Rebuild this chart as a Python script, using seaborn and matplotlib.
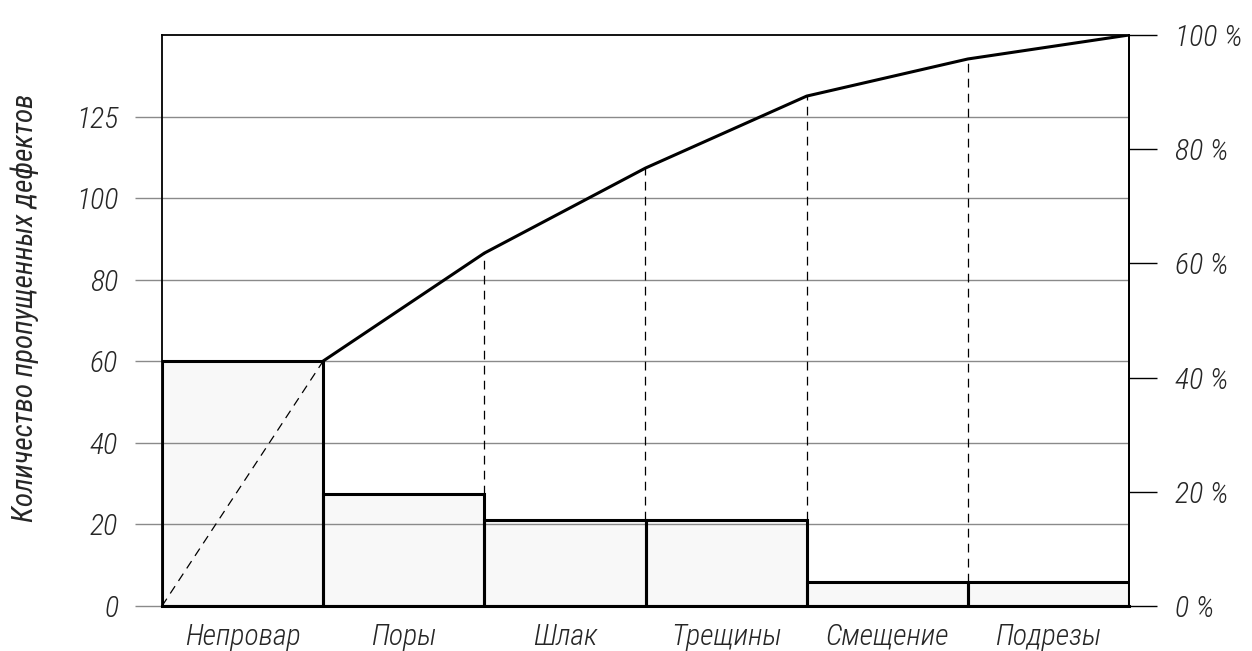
import numpy as np
import pandas as pd
import matplotlib
matplotlib.use("Agg")
import matplotlib.pyplot as plt
import matplotlib.font_manager as fm
import seaborn as sns

# ---- data ----
categories = ["Непровар", "Поры", "Шлак", "Трещины", "Смещение", "Подрезы"]
defects = [60, 27.5, 21, 21, 6, 6]
cumulative_pct = [42.9, 61.8, 76.7, 89.3, 95.8, 100.0]
left_ticks = [0, 20, 40, 60, 80, 100, 120]
left_tick_labels = ["0", "20", "40", "60", "80", "100", "125"]
right_ticks = [0, 20, 40, 60, 80, 100]
right_tick_labels = ["0 %", "20 %", "40 %", "60 %", "80 %", "100 %"]
left_top = 140  # left-axis value that matches 100 %
y_label = "Количество пропущенных дефектов"

sns.set_theme(style="white")

# choose a narrow font if one is available
names = {f.name for f in fm.fontManager.ttflist}
family, stretch = "DejaVu Sans", "normal"
for cand in ["Liberation Sans Narrow", "Roboto Condensed", "Open Sans Condensed"]:
    if cand in names:
        family = cand
        break
else:
    if any(f.name == "DejaVu Sans" and f.stretch == "condensed" for f in fm.fontManager.ttflist):
        stretch = "condensed"
plt.rcParams["font.family"] = [family, "DejaVu Sans"]
plt.rcParams["font.style"] = "italic"
plt.rcParams["font.weight"] = "light"
plt.rcParams["font.stretch"] = stretch

FS = 21.5
GRID = "#8a8a8a"

fig = plt.figure(figsize=(12.52, 6.51), dpi=100)
ax = fig.add_axes([162 / 1252, 1 - 606 / 651, (1129 - 162) / 1252, (606 - 35) / 651])

df = pd.DataFrame({"cat": categories, "n": defects})
# fill
sns.barplot(data=df, x="cat", y="n", ax=ax, color="#f8f8f8", width=1.0,
            saturation=1, edgecolor="none", linewidth=0, zorder=1)
# outlines
sns.barplot(data=df, x="cat", y="n", ax=ax, color="black", width=1.0,
            fill=False, linewidth=2.2, zorder=3)

ax.set_xlim(-0.5, len(categories) - 0.5)
ax.set_ylim(0, left_top)
ax.set_yticks(left_ticks)
ax.set_yticklabels(left_tick_labels, fontsize=FS)
ax.set_xlabel("")
ax.set_ylabel(y_label, fontsize=21, va="center")
ax.yaxis.set_label_coords((25 - 162) / 967, (606 - 308) / 571)
ax.tick_params(axis="y", length=19.5, width=1, color=GRID, direction="out", pad=12)
ax.tick_params(axis="x", length=0, pad=12, labelsize=FS)
ax.set_axisbelow("line")
ax.grid(axis="y", color=GRID, linewidth=1)
ax.grid(axis="x", visible=False)
for s in ["left", "top", "right"]:
    ax.spines[s].set_color("black")
    ax.spines[s].set_linewidth(1.3)
ax.spines["bottom"].set_color("black")
ax.spines["bottom"].set_linewidth(2.2)

# cumulative percentage axis
ax2 = ax.twinx()
ax2.set_ylim(0, 100)
ax2.set_yticks(right_ticks)
ax2.set_yticklabels(right_tick_labels, fontsize=FS)
ax2.tick_params(axis="y", length=20, width=1, color="black", direction="out", pad=13)
ax2.grid(False)
for s in ["left", "top", "bottom"]:
    ax2.spines[s].set_visible(False)
ax2.spines["right"].set_color("black")
ax2.spines["right"].set_linewidth(1.3)

pos = np.arange(len(categories)) + 0.5
sns.lineplot(x=pos, y=cumulative_pct, ax=ax2, color="black", linewidth=2.2,
             estimator=None, sort=False)
# dashed start segment
ax2.plot([-0.5, 0.5], [0, cumulative_pct[0]], color="black", linewidth=0.9,
         linestyle=(0, (7, 5)))
# dashed vertical drop lines
bar_pct = np.array(defects) / left_top * 100
ax2.vlines(pos[1:-1], bar_pct[1:-1], np.array(cumulative_pct[1:-1]), color="black",
           linewidth=0.9, linestyles=[(0, (7, 5))])

fig.savefig("out.png", dpi=100)
